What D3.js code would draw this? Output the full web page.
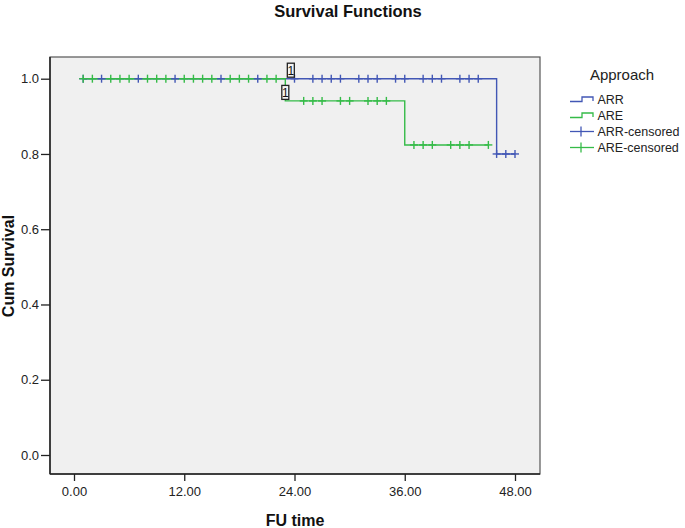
<!DOCTYPE html>
<html><head><meta charset="utf-8">
<script src="https://cdn.jsdelivr.net/npm/d3@7"></script>
<style>body{margin:0;background:#fff}svg{display:block;font-family:"Liberation Sans",Arial,sans-serif}</style>
</head><body><svg id="c" width="685" height="528"></svg>
<script>
const xTicks = [0, 12, 24, 36, 48];
const yTicks = [0, 0.2, 0.4, 0.6, 0.8, 1.0];
// Step curves: [time, survival]
const arrCurve = [[1, 1.0], [46, 1.0], [46, 0.8], [48, 0.8]];
const areCurve = [[1, 1.0], [23, 1.0], [23, 0.941], [36, 0.941], [36, 0.824], [45.1, 0.824]];
// censored times
const arrCensored1 = [1, 3, 7, 11, 16, 20, 24, 26, 27, 28, 29, 31, 32, 33, 35, 36, 38, 39, 40, 42, 43, 44];
const arrCensored2 = [46, 47, 48];
const areCensored1 = [1, 2, 4, 5, 6, 8, 9, 10, 12, 13, 14, 15, 17, 18, 19, 21, 22];
const areCensored2 = [25, 26, 27, 29, 30, 32, 33, 34];
const areCensored3 = [37, 38, 39, 41, 42, 43, 45.1];
const boxLabels = [{t: 23.6, s: 1.0, label: "1"}, {t: 23.0, s: 0.941, label: "1"}];
const legendItems = ["ARR", "ARE", "ARR-censored", "ARE-censored"];

const BLUE = "#4257b5", GREEN = "#35bb48";
const svg = d3.select("#c");
const box = {l: 50, t: 57, r: 540, b: 474};
const x = d3.scaleLinear().domain([0, 48]).range([74, 515]);
const y = d3.scaleLinear().domain([0, 1]).range([455, 78.7]);

svg.append("rect").attr("x", box.l).attr("y", box.t).attr("width", box.r - box.l).attr("height", box.b - box.t)
  .attr("fill", "#f0f0f0").attr("stroke", "#555").attr("stroke-width", 1.2);

// axes
const xAxis = svg.append("g").attr("transform", `translate(0,${box.b})`)
  .call(d3.axisBottom(x).tickValues(xTicks).tickFormat(d3.format(".2f")).tickSize(7).tickPadding(6));
const yAxis = svg.append("g").attr("transform", `translate(${box.l},0)`)
  .call(d3.axisLeft(y).tickValues(yTicks).tickFormat(d3.format(".1f")).tickSize(9).tickPadding(2));
[xAxis, yAxis].forEach(g => {
  g.select(".domain").remove();
  g.selectAll("line").attr("stroke", "#222").attr("stroke-width", 1.3);
  g.selectAll("text").attr("fill", "#222").style("font-size", "13px").style("font-family", "Liberation Sans, Arial, sans-serif");
});
svg.append("line").attr("x1", box.l).attr("x2", box.l).attr("y1", box.t).attr("y2", box.b).attr("stroke", "#222").attr("stroke-width", 1.5);
svg.append("line").attr("x1", box.l).attr("x2", box.r).attr("y1", box.b).attr("y2", box.b).attr("stroke", "#222").attr("stroke-width", 1.5);

// curves
const line = d3.line().x(d => x(d[0])).y(d => y(d[1]));
svg.append("path").attr("d", line(arrCurve)).attr("fill", "none").attr("stroke", BLUE).attr("stroke-width", 1.4);
svg.append("path").attr("d", line(areCurve)).attr("fill", "none").attr("stroke", GREEN).attr("stroke-width", 1.4);

function marks(times, s, color) {
  const g = svg.append("g").attr("stroke", color).attr("stroke-width", 1.4);
  times.forEach(t => {
    g.append("line").attr("x1", x(t) - 4).attr("x2", x(t) + 4).attr("y1", y(s)).attr("y2", y(s));
    g.append("line").attr("x1", x(t)).attr("x2", x(t)).attr("y1", y(s) - 4).attr("y2", y(s) + 4);
  });
}
marks(arrCensored1, 1.0, BLUE);
marks(arrCensored2, 0.8, BLUE);
marks(areCensored1, 1.0, GREEN);
marks(areCensored2, 0.941, GREEN);
marks(areCensored3, 0.824, GREEN);

boxLabels.forEach(b => {
  const cx = x(b.t), by = y(b.s) - 1.5;
  svg.append("rect").attr("x", cx - 3.5).attr("y", by - 14).attr("width", 7).attr("height", 14)
    .attr("fill", "#f4f4f4").attr("stroke", "#222").attr("stroke-width", 1.3);
  svg.append("text").attr("x", cx).attr("y", by - 2.5).attr("text-anchor", "middle")
    .style("font-size", "12px").attr("fill", "#111").text(b.label);
});

// titles
svg.append("text").attr("x", 348).attr("y", 17).attr("text-anchor", "middle")
  .style("font-size", "16.5px").style("font-weight", "bold").attr("fill", "#111").text("Survival Functions");
svg.append("text").attr("x", 295).attr("y", 526).attr("text-anchor", "middle")
  .style("font-size", "16px").style("font-weight", "bold").attr("fill", "#111").text("FU time");
svg.append("text").attr("transform", "translate(14,266) rotate(-90)").attr("text-anchor", "middle")
  .style("font-size", "16px").style("font-weight", "bold").attr("fill", "#111").text("Cum Survival");

// legend
svg.append("text").attr("x", 622).attr("y", 79.5).attr("text-anchor", "middle")
  .style("font-size", "15px").attr("fill", "#222").text("Approach");
const ly = [99.5, 115.5, 131.5, 147.5];
legendItems.forEach((name, i) => {
  const col = i % 2 === 0 ? BLUE : GREEN;
  const yy = ly[i];
  if (i < 2) {
    svg.append("path").attr("d", `M570,${yy + 2}H582V${yy - 2.5}H593V${yy + 1.5}`)
      .attr("fill", "none").attr("stroke", col).attr("stroke-width", 1.3);
  } else {
    svg.append("line").attr("x1", 570).attr("x2", 594).attr("y1", yy).attr("y2", yy).attr("stroke", col).attr("stroke-width", 1.3);
    svg.append("line").attr("x1", 581).attr("x2", 581).attr("y1", yy - 5).attr("y2", yy + 5).attr("stroke", col).attr("stroke-width", 1.3);
  }
  svg.append("text").attr("x", 597.5).attr("y", yy + 4.3).style("font-size", "12.5px").attr("fill", "#222").text(name);
});
</script></body></html>
